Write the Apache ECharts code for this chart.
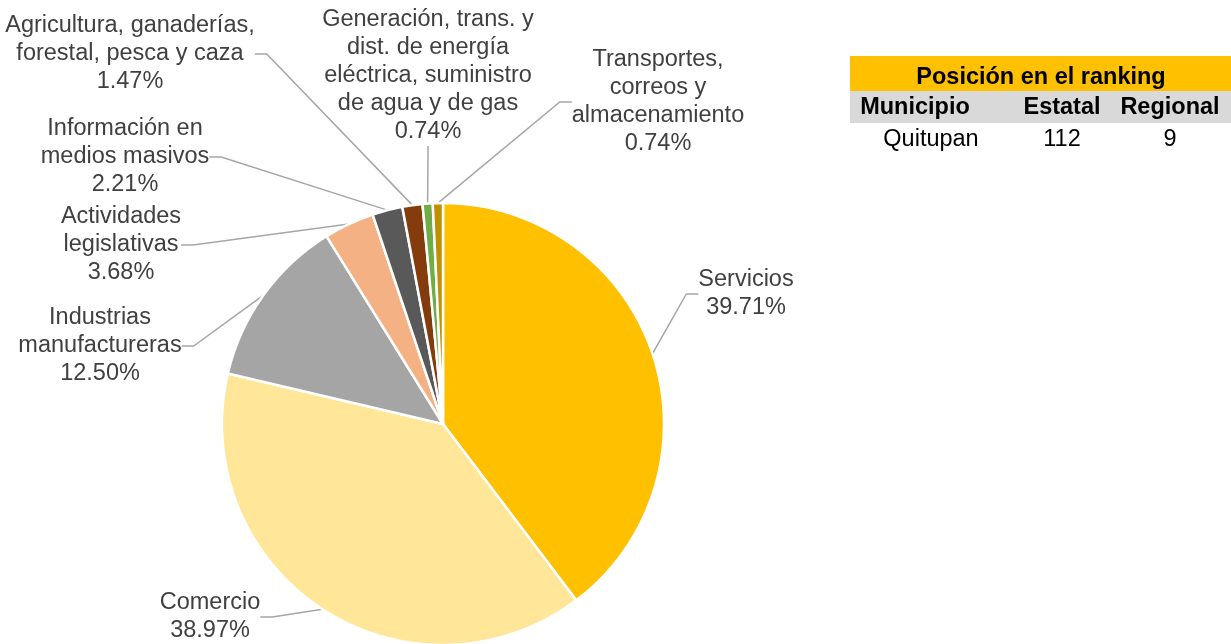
<!DOCTYPE html>
<html>
<head>
<meta charset="utf-8">
<script src="https://cdn.jsdelivr.net/npm/echarts@6/dist/echarts.min.js"></script>
<style>
  html, body { margin: 0; padding: 0; background: #fff; }
  #chart { width: 1231px; height: 644px; }
</style>
</head>
<body>
<div id="chart"></div>
<script>
// sectores económicos (porcentaje de unidades)
const sectores = [
  'Servicios',
  'Comercio',
  'Industrias\nmanufactureras',
  'Actividades\nlegislativas',
  'Información en\nmedios masivos',
  'Agricultura, ganaderías,\nforestal, pesca y caza',
  'Generación, trans. y\ndist. de energía\neléctrica, suministro\nde agua y de gas',
  'Transportes,\ncorreos y\nalmacenamiento'
];
const porcentajes = [39.71, 38.97, 12.50, 3.68, 2.21, 1.47, 0.74, 0.74];
const colores = ['#FFC000', '#FFE699', '#A5A5A5', '#F4B183', '#595959', '#843C0C', '#70AD47', '#BF9000'];

// ranking
const rankingTitulo = 'Posición en el ranking';
const rankingCols = ['Municipio', 'Estatal', 'Regional'];
const rankingValores = ['Quitupan', '112', '9'];

// donde va cada etiqueta (centro del bloque de texto)
const posEtiquetas = [
  [746, 294], [210, 617], [100, 346], [121, 245],
  [125, 157], [130, 54], [428, 76], [658, 102]
];
const colX = [915, 1062, 1170];

const FONT = '"Liberation Sans", Arial, sans-serif';
const myChart = echarts.init(document.getElementById('chart'));

const data = sectores.map((s, i) => ({
  name: s,
  value: porcentajes[i],
  itemStyle: { color: colores[i] }
}));

const graphic = [
  { type: 'rect', shape: { x: 850, y: 56, width: 381, height: 35 }, style: { fill: '#FFC000' }, silent: true },
  { type: 'rect', shape: { x: 850, y: 91, width: 381, height: 32 }, style: { fill: '#D9D9D9' }, silent: true },
  { type: 'text', x: 1041, y: 78, style: { text: rankingTitulo, font: 'bold 23.5px ' + FONT, fill: '#000', align: 'center', verticalAlign: 'middle' } }
];
rankingCols.forEach((c, i) => {
  graphic.push({ type: 'text', x: colX[i], y: 108, style: { text: c, font: 'bold 23.5px ' + FONT, fill: '#000', align: 'center', verticalAlign: 'middle' } });
});
rankingValores.forEach((v, i) => {
  graphic.push({ type: 'text', x: colX[i] + (i === 0 ? 16 : 0), y: 140, style: { text: v, font: '23.5px ' + FONT, fill: '#000', align: 'center', verticalAlign: 'middle' } });
});

const option = {
  animation: false,
  backgroundColor: '#fff',
  graphic: graphic,
  series: [{
    type: 'pie',
    center: [443, 424],
    radius: 221,
    startAngle: 90,
    clockwise: true,
    avoidLabelOverlap: false,
    data: data,
    itemStyle: { borderColor: '#fff', borderWidth: 2.5 },
    label: {
      show: true,
      position: 'outside',
      fontFamily: FONT,
      fontSize: 23.5,
      lineHeight: 28,
      color: '#404040',
      align: 'center',
      formatter: p => p.name + '\n' + p.value.toFixed(2) + '%'
    },
    labelLine: {
      show: true,
      length: 15,
      length2: 12,
      lineStyle: { color: '#A6A6A6', width: 1.5 }
    },
    labelLayout: function (params) {
      const pos = posEtiquetas[params.dataIndex];
      return { x: pos[0], y: pos[1], align: 'center', verticalAlign: 'middle' };
    }
  }]
};
myChart.setOption(option);
</script>
</body>
</html>
